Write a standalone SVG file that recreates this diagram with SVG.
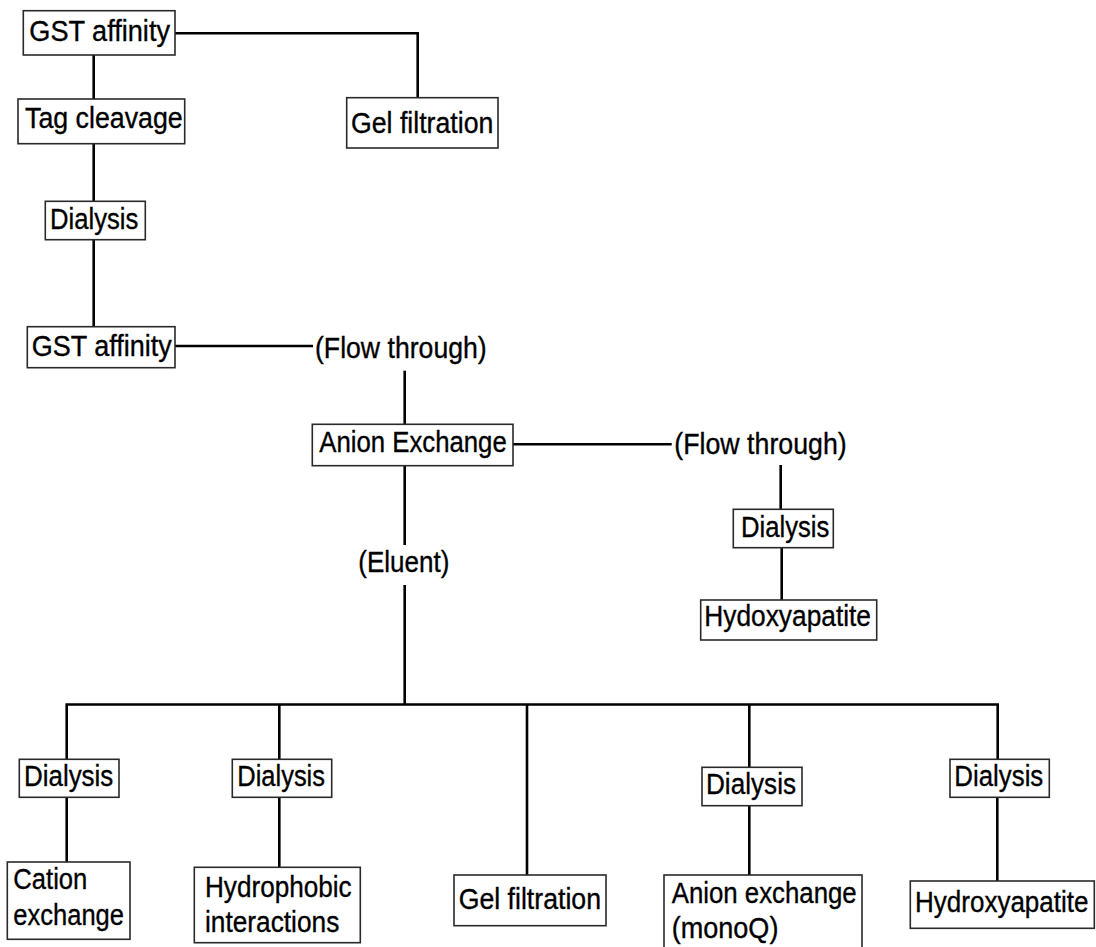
<svg xmlns="http://www.w3.org/2000/svg" width="1096" height="947" viewBox="0 0 1096 947">
<style>
.box{fill:#fff;stroke:#2a2a2a;stroke-width:1.6}
.t{font-family:"Liberation Sans",Arial,sans-serif;font-size:29px;fill:#000;stroke:#000;stroke-width:0.35}
.c{fill:none;stroke:#000;stroke-width:2.6}
</style>
<rect width="1096" height="947" fill="#fff"/>
<g id="connectors">
<path class="c" d="M175,33.3 H417.7 V98"/>
<path class="c" d="M93.7,55 V99"/>
<path class="c" d="M93.7,144 V201"/>
<path class="c" d="M93.7,240 V327"/>
<path class="c" d="M175,346 H313"/>
<path class="c" d="M404.7,370.7 V424"/>
<path class="c" d="M513,444.3 H671.7"/>
<path class="c" d="M780.7,465 V509"/>
<path class="c" d="M781.7,548 V600"/>
<path class="c" d="M404.7,466 V545"/>
<path class="c" d="M404.7,585 V704.5"/>
<path class="c" d="M66.7,759 V704.5 H997.7 V759"/>
<path class="c" d="M279.3,704.5 V759"/>
<path class="c" d="M527,704.5 V875"/>
<path class="c" d="M749.3,704.5 V767"/>
<path class="c" d="M66.7,797 V862"/>
<path class="c" d="M279.3,797 V867"/>
<path class="c" d="M749.3,806 V875"/>
<path class="c" d="M997.3,797 V881"/>
</g>
<g id="gst1"><rect class="box" x="23.3" y="10.7" width="151.7" height="44.3"/><text class="t" x="29.3" y="41" textLength="140.7" lengthAdjust="spacingAndGlyphs">GST affinity</text></g>
<g id="gel1"><rect class="box" x="346.7" y="97.7" width="151.3" height="50.3"/><text class="t" x="351" y="133" textLength="142.3" lengthAdjust="spacingAndGlyphs">Gel filtration</text></g>
<g id="tag"><rect class="box" x="18" y="99" width="166.7" height="44.7"/><text class="t" x="25" y="128" textLength="157.7" lengthAdjust="spacingAndGlyphs">Tag cleavage</text></g>
<g id="dial1"><rect class="box" x="45.3" y="201.3" width="100" height="38.4"/><text class="t" x="50" y="228.5" textLength="88.3" lengthAdjust="spacingAndGlyphs">Dialysis</text></g>
<g id="gst2"><rect class="box" x="27.3" y="326.7" width="147.7" height="41"/><text class="t" x="31.7" y="356" textLength="140" lengthAdjust="spacingAndGlyphs">GST affinity</text></g>
<g id="flow1"><text class="t" x="315" y="358.3" textLength="171.7" lengthAdjust="spacingAndGlyphs">(Flow through)</text></g>
<g id="anion"><rect class="box" x="312.3" y="424.3" width="200.7" height="41.4"/><text class="t" x="319.3" y="452" textLength="187.4" lengthAdjust="spacingAndGlyphs">Anion Exchange</text></g>
<g id="flow2"><text class="t" x="674.3" y="453.5" textLength="172.4" lengthAdjust="spacingAndGlyphs">(Flow through)</text></g>
<g id="dial2"><rect class="box" x="733.3" y="509.3" width="100" height="38.4"/><text class="t" x="741" y="536.7" textLength="88.3" lengthAdjust="spacingAndGlyphs">Dialysis</text></g>
<g id="hydoxy"><rect class="box" x="700.7" y="600" width="176" height="40"/><text class="t" x="704.3" y="626" textLength="166.7" lengthAdjust="spacingAndGlyphs">Hydoxyapatite</text></g>
<g id="eluent"><text class="t" x="358.3" y="571.7" textLength="91" lengthAdjust="spacingAndGlyphs">(Eluent)</text></g>
<g id="dial3"><rect class="box" x="19.3" y="759.3" width="99.7" height="38"/><text class="t" x="24" y="786" textLength="89.3" lengthAdjust="spacingAndGlyphs">Dialysis</text></g>
<g id="cation"><rect class="box" x="7.3" y="862" width="122.7" height="77.3"/><text class="t" x="13.3" y="889.3" textLength="74" lengthAdjust="spacingAndGlyphs">Cation</text><text class="t" x="13.3" y="925" textLength="110.7" lengthAdjust="spacingAndGlyphs">exchange</text></g>
<g id="dial4"><rect class="box" x="232.3" y="759.3" width="99.4" height="38"/><text class="t" x="237.3" y="786" textLength="87.7" lengthAdjust="spacingAndGlyphs">Dialysis</text></g>
<g id="hydrophobic"><rect class="box" x="194.3" y="867.3" width="166" height="75.4"/><text class="t" x="205" y="896.7" textLength="146.7" lengthAdjust="spacingAndGlyphs">Hydrophobic</text><text class="t" x="205" y="932.3" textLength="134.3" lengthAdjust="spacingAndGlyphs">interactions</text></g>
<g id="gel2"><rect class="box" x="454" y="875" width="152" height="50.7"/><text class="t" x="458.7" y="909.3" textLength="142.3" lengthAdjust="spacingAndGlyphs">Gel filtration</text></g>
<g id="dial5"><rect class="box" x="702" y="767.3" width="100" height="38.4"/><text class="t" x="706" y="794.3" textLength="90" lengthAdjust="spacingAndGlyphs">Dialysis</text></g>
<g id="monoq"><rect class="box" x="664" y="875" width="198" height="80"/><text class="t" x="671.7" y="902.7" textLength="185" lengthAdjust="spacingAndGlyphs">Anion exchange</text><text class="t" x="671.7" y="938.3" textLength="106.7" lengthAdjust="spacingAndGlyphs">(monoQ)</text></g>
<g id="dial6"><rect class="box" x="950" y="759.3" width="99.3" height="38"/><text class="t" x="954.3" y="786" textLength="89" lengthAdjust="spacingAndGlyphs">Dialysis</text></g>
<g id="hydroxy"><rect class="box" x="910.3" y="881" width="184" height="47.3"/><text class="t" x="915" y="911.7" textLength="173.5" lengthAdjust="spacingAndGlyphs">Hydroxyapatite</text></g>
</svg>
